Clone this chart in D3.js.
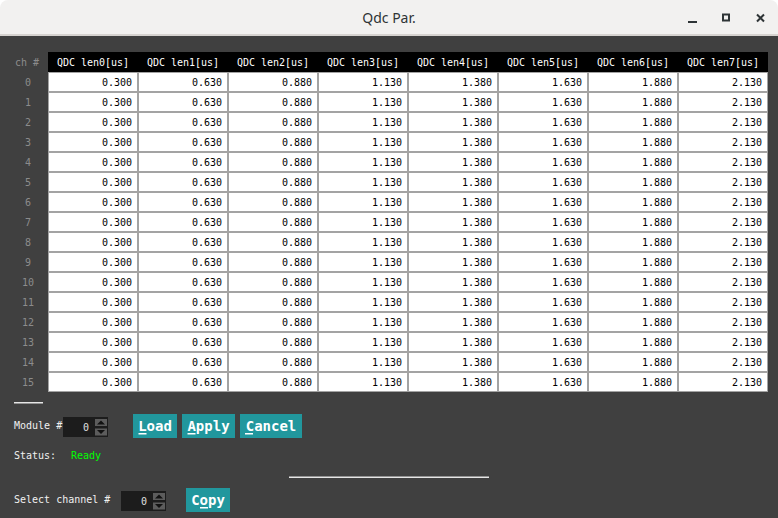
<!DOCTYPE html>
<html>
<head>
<meta charset="utf-8">
<script src="https://cdn.jsdelivr.net/npm/d3@7"></script>
<style>
  body { margin: 0; background: #ffffff; overflow: hidden; }
  text { font-family: "DejaVu Sans Mono", "Liberation Mono", monospace; }
</style>
</head>
<body>
<svg id="win"></svg>
<script>
// table data
const channels = [0, 1, 2, 3, 4, 5, 6, 7, 8, 9, 10, 11, 12, 13, 14, 15];
const columns = ["QDC len0[us]", "QDC len1[us]", "QDC len2[us]", "QDC len3[us]",
                 "QDC len4[us]", "QDC len5[us]", "QDC len6[us]", "QDC len7[us]"];
// every channel shows the same lengths
const qdcLen = [0.300, 0.630, 0.880, 1.130, 1.380, 1.630, 1.880, 2.130];
const moduleNo = 0;
const channelNo = 0;
const statusText = "Ready";

const W = 778, H = 518;
const svg = d3.select("#win").attr("width", W).attr("height", H);

// window body + title bar
svg.append("rect").attr("x", 0).attr("y", 0).attr("width", W).attr("height", H)
  .attr("rx", 8).attr("fill", "#f2f1f0");
svg.append("rect").attr("x", 0).attr("y", 34).attr("width", W).attr("height", 2).attr("fill", "#d6d3d0");
svg.append("rect").attr("x", 0).attr("y", 36).attr("width", W).attr("height", H - 36).attr("fill", "#404040");

svg.append("text").attr("x", 389).attr("y", 23).attr("text-anchor", "middle")
  .style("font-family", "'Noto Sans', sans-serif").style("font-size", "14px")
  .attr("fill", "#2e3436").text("Qdc Par.");

// window controls
svg.append("rect").attr("x", 688).attr("y", 21).attr("width", 9).attr("height", 2).attr("fill", "#2e3436");
svg.append("rect").attr("x", 723).attr("y", 14.5).attr("width", 6).attr("height", 6)
  .attr("fill", "none").attr("stroke", "#2e3436").attr("stroke-width", 2);
svg.append("path").attr("d", "M757,14.5L764,21.5M764,14.5L757,21.5")
  .attr("stroke", "#2e3436").attr("stroke-width", 2);

// table scales
const x = d3.scaleBand().domain(columns).range([48, 768]);
const y = d3.scaleBand().domain(channels).range([72, 392]);
const fmt = d3.format(".3f");

const table = svg.append("g");

// header
table.append("rect").attr("x", 48).attr("y", 52).attr("width", 720).attr("height", 20).attr("fill", "#000");
table.append("text").attr("x", 27).attr("y", 66).attr("text-anchor", "middle")
  .style("font-size", "10px").attr("fill", "#8c8c8c").text("ch #");
table.selectAll(".hdr").data(columns).enter().append("text")
  .attr("class", "hdr")
  .attr("x", d => x(d) + x.bandwidth() / 2)
  .attr("y", 66)
  .attr("text-anchor", "middle")
  .style("font-size", "10px")
  .attr("fill", "#ffffff")
  .text(d => d);

// body
table.append("rect").attr("x", 48).attr("y", 72).attr("width", 720).attr("height", 320).attr("fill", "#ffffff");

const rows = table.selectAll(".row").data(channels).enter().append("g")
  .attr("class", "row")
  .attr("transform", d => "translate(0," + y(d) + ")");

rows.append("text")
  .attr("x", 28).attr("y", 14)
  .attr("text-anchor", "middle")
  .style("font-size", "10px")
  .attr("fill", "#8c8c8c")
  .text(d => d);

rows.selectAll(".cell").data(() => columns.map((c, i) => ({ col: c, v: qdcLen[i] })))
  .enter().append("rect")
  .attr("class", "cell")
  .attr("x", d => x(d.col) + 0.5)
  .attr("y", 0.5)
  .attr("width", x.bandwidth() - 1)
  .attr("height", y.bandwidth() - 1)
  .attr("fill", "#ffffff")
  .attr("stroke", "#a3a3a3")
  .attr("stroke-width", 1);

rows.selectAll(".val").data(() => columns.map((c, i) => ({ col: c, v: qdcLen[i] })))
  .enter().append("text")
  .attr("class", "val")
  .attr("x", d => x(d.col) + x.bandwidth() - 6)
  .attr("y", 14)
  .attr("text-anchor", "end")
  .style("font-size", "10px")
  .attr("fill", "#000")
  .text(d => fmt(d.v));

// separators
svg.append("rect").attr("x", 14).attr("y", 402).attr("width", 29).attr("height", 1.5).attr("fill", "#e6e6e6");
svg.append("rect").attr("x", 289).attr("y", 476.5).attr("width", 200).attr("height", 1.5).attr("fill", "#e6e6e6");

// controls
function label(tx, ty, s, col) {
  svg.append("text").attr("x", tx).attr("y", ty).style("font-size", "10px")
    .attr("fill", col || "#f0f0f0").text(s);
}

function spin(sx, sy, val) {
  svg.append("rect").attr("x", sx).attr("y", sy).attr("width", 45).attr("height", 20).attr("fill", "#1c1c1c");
  svg.append("text").attr("x", sx + 26).attr("y", sy + 14).attr("text-anchor", "end")
    .style("font-size", "10px").attr("fill", "#e0e0e0").text(val);
  [0, 1].forEach(k => {
    const by = sy + 2 + k * 9.5;
    svg.append("rect").attr("x", sx + 32).attr("y", by).attr("width", 12).attr("height", 7).attr("fill", "#5c5c5c");
    const cx = sx + 38;
    svg.append("path")
      .attr("d", k === 0
        ? `M${cx - 4},${by + 5.5}L${cx + 4},${by + 5.5}L${cx},${by + 1.5}Z`
        : `M${cx - 4},${by + 1.5}L${cx + 4},${by + 1.5}L${cx},${by + 5.5}Z`)
      .attr("fill", "#111");
  });
}

function button(bx, by, bw, s) {
  svg.append("rect").attr("x", bx).attr("y", by).attr("width", bw).attr("height", 24).attr("fill", "#21979d");
  svg.append("text").attr("x", bx + bw / 2).attr("y", by + 17).attr("text-anchor", "middle")
    .style("font-size", "14px").style("font-weight", "bold")
    .attr("fill", "#ffffff").text(s);
}

label(14, 429, "Module #");
spin(63, 417, moduleNo);
button(133, 414, 44, "Load");
button(182, 414, 53, "Apply");
button(240, 414, 62, "Cancel");
// mnemonic underlines
[[138.5, 432], [187.5, 432], [245, 432]].forEach(p =>
  svg.append("rect").attr("x", p[0]).attr("y", p[1] + 1).attr("width", 8).attr("height", 1.5).attr("fill", "#fff"));

label(14, 459, "Status:");
label(71, 459, statusText, "#00ff00");

label(14, 503, "Select channel #");
spin(121, 491, channelNo);
button(186, 488, 44, "Copy");
svg.append("rect").attr("x", 200).attr("y", 507).attr("width", 8).attr("height", 1.5).attr("fill", "#fff");
</script>
</body>
</html>
